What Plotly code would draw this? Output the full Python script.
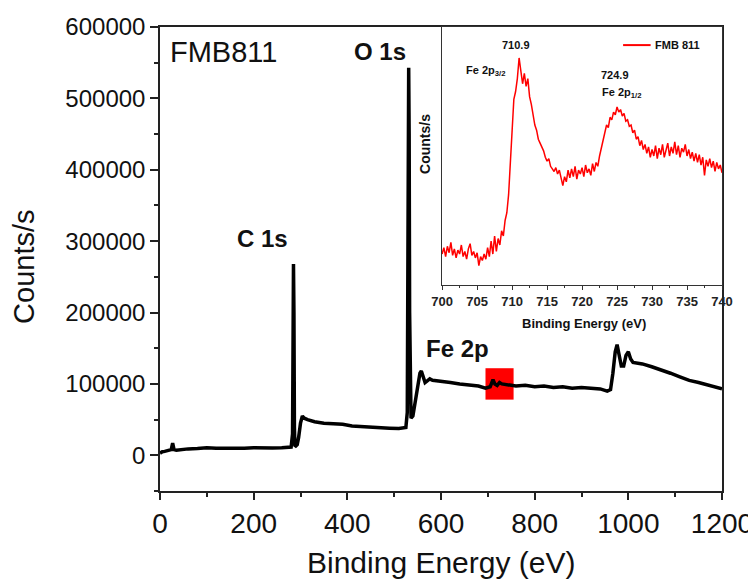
import plotly.graph_objects as go

# ---------------- main survey spectrum ----------------
survey_ev = [0, 5, 10, 15, 20, 24, 27, 30, 35, 45, 60, 80, 100, 120, 140, 160, 180, 200,
             220, 240, 260, 275, 280, 283, 284, 285, 286, 287, 288, 290, 293, 296, 300,
             304, 308, 315, 330, 350, 370, 390, 410, 430, 450, 470, 490, 510, 525, 528,
             529, 530, 531, 532, 533, 534, 536, 540, 545, 550, 555, 558, 562, 566, 570,
             576, 582, 600, 620, 640, 660, 680, 695, 705, 711, 715, 720, 725, 730, 745,
             760, 780, 800, 820, 840, 860, 880, 900, 920, 940, 955, 962, 967, 972, 976,
             980, 985, 990, 995, 1000, 1005, 1010, 1030, 1050, 1070, 1090, 1110, 1130,
             1150, 1170, 1190, 1200]
survey_counts = [3000, 5000, 5500, 6000, 6500, 8000, 17000, 8000, 7000, 8000, 9000, 9500,
                 10500, 9800, 9500, 10000, 9800, 10500, 10000, 10200, 10500, 11000, 11500,
                 30000, 150000, 268000, 200000, 40000, 14000, 13000, 15000, 25000, 45000,
                 55000, 52000, 50000, 47000, 45000, 44000, 43500, 41000, 40000, 39500,
                 38500, 38000, 37500, 39000, 60000, 200000, 420000, 543000, 450000,
                 200000, 70000, 52000, 55000, 75000, 100000, 115000, 118000, 110000,
                 102000, 104000, 107000, 105000, 104000, 102000, 100000, 98000, 97000,
                 94000, 96000, 106000, 100000, 98000, 102000, 100000, 99000, 97000, 98000,
                 96000, 97000, 95000, 96000, 94000, 95000, 94000, 93000, 90000, 92000,
                 115000, 145000, 155000, 140000, 125000, 125000, 140000, 145000, 135000,
                 130000, 128000, 124000, 120000, 115000, 110000, 105000, 102000, 98000,
                 95000, 93000]

# ---------------- inset Fe 2p spectrum ----------------
fe_start = 700.0
fe_step = 0.25
fe_counts = [
    12.0, 14.5, 11.0, 15.0, 12.5, 16.5, 11.5, 14.0, 10.5, 13.5, 12.0, 15.5, 11.0, 13.0,
    10.0, 14.0, 16.0, 11.5, 13.0, 10.5, 12.5, 7.5, 11.0, 9.5, 12.0, 10.0, 14.5, 11.0,
    17.0, 12.0, 19.0, 13.0, 18.0,
    15.5, 21.0, 19.0, 25.0, 28.0, 35.0, 48.0, 63.0, 72.0, 75.0, 80.0, 88.0, 83.0, 78.0,
    82.0, 77.0, 80.0, 73.0, 70.0, 66.0, 62.0, 60.0, 56.5, 55.0, 53.5, 52.0, 49.5, 48.0,
    49.0, 46.0, 45.0, 44.0, 45.5, 43.0, 44.5, 41.0, 38.5, 42.0, 40.0, 44.5, 41.5, 45.0,
    42.0, 46.0, 41.0, 44.5, 43.0, 45.5, 42.0, 46.5, 43.5, 45.0, 42.5, 47.0, 44.0, 47.5,
    46.0, 50.0, 53.0, 56.0, 58.5, 62.0, 61.0, 65.0, 64.0, 67.0, 66.0, 69.0, 67.0, 68.0,
    65.5, 66.5, 63.5, 64.0, 61.5, 62.0, 59.0, 60.0, 56.5, 57.5, 54.0, 56.0, 52.5, 54.5,
    51.0, 53.5, 49.5, 52.5, 50.0, 54.0, 49.0, 53.0, 50.5, 54.5, 49.5, 52.0, 55.0, 50.0,
    53.5, 51.0, 55.5, 50.5, 54.0, 49.5, 53.0, 51.5, 54.5, 50.0, 52.5, 49.0, 51.5, 48.0,
    51.0, 47.5, 50.5, 46.5, 49.5, 42.5, 48.5, 46.0, 49.0, 45.5, 48.0, 44.0, 47.5, 45.0,
    46.5, 43.5]
fe_ev = [fe_start + fe_step * i for i in range(len(fe_counts))]

# highlighted region on survey
box_ev = [695, 755]
box_counts = [78000, 122000]

main_font = "Liberation Sans, Arial, sans-serif"

fig = go.Figure()
fig.add_trace(go.Scatter(x=survey_ev, y=survey_counts, mode="lines",
                         line=dict(color="black", width=3.5), showlegend=False,
                         xaxis="x", yaxis="y"))
fig.add_trace(go.Scatter(x=fe_ev, y=fe_counts, mode="lines", name="FMB 811",
                         line=dict(color="#ff0000", width=1.5), showlegend=False,
                         xaxis="x2", yaxis="y2"))

fig.add_shape(type="rect", xref="x", yref="y", x0=box_ev[0], x1=box_ev[1],
              y0=box_counts[0], y1=box_counts[1], fillcolor="#ff0000",
              line=dict(width=0), layer="below")
# legend sample line for the inset
fig.add_shape(type="line", xref="paper", yref="paper", x0=0.824, x1=0.873,
              y0=0.961, y1=0.961, line=dict(color="#ff0000", width=2))

fig.update_layout(
    width=756, height=573,
    margin=dict(l=152, r=42, t=19, b=90, autoexpand=False),
    paper_bgcolor="white", plot_bgcolor="white",
    font=dict(family=main_font, color="black"),
    showlegend=False,
    xaxis=dict(domain=[0, 1], range=[0, 1200], tickvals=[0, 200, 400, 600, 800, 1000, 1200],
               ticks="outside", ticklen=7, tickwidth=1.5, tickcolor="#222", automargin=False,
               minor=dict(ticks="outside", ticklen=4, dtick=100, tickcolor="#222", tickwidth=1.5),
               showline=True, linecolor="#222", linewidth=1.5, mirror=True,
               showgrid=False, zeroline=False, tickfont=dict(size=28, color="#111")),
    yaxis=dict(domain=[0, 1], range=[-50000, 600000],
               tickvals=[0, 100000, 200000, 300000, 400000, 500000, 600000],
               ticktext=["0", "100000", "200000", "300000", "400000", "500000", "600000"],
               ticks="outside", ticklen=8, tickwidth=1.5, tickcolor="#222", automargin=False,
               minor=dict(ticks="outside", ticklen=4, dtick=50000, tickcolor="#222", tickwidth=1.5),
               showline=True, linecolor="#222", linewidth=1.5, mirror=True,
               showgrid=False, zeroline=False, tickfont=dict(size=24, color="#111")),
    xaxis2=dict(domain=[0.502, 1.0], anchor="y2", range=[700, 740], automargin=False,
                tickvals=[700, 705, 710, 715, 720, 725, 730, 735, 740],
                ticks="outside", ticklen=4, tickwidth=1, tickcolor="#333",
                minor=dict(ticks="outside", ticklen=2, dtick=2.5, tickcolor="#333"),
                showline=True, linecolor="#333", linewidth=1, mirror=True,
                showgrid=False, zeroline=False,
                tickfont=dict(size=13, family="Liberation Sans, Arial", color="#222",
                              weight="bold")),
    yaxis2=dict(domain=[0.444, 1.0], anchor="x2", range=[0, 100], automargin=False,
                showticklabels=False, ticks="",
                showline=True, linecolor="#333", linewidth=1, mirror=True,
                showgrid=False, zeroline=False),
)

ann = []
def a(text, x, y, size, bold=False, angle=0, xanchor="center"):
    ann.append(dict(text=text, x=x, y=y, xref="paper", yref="paper", showarrow=False,
                    xanchor=xanchor, yanchor="middle", textangle=angle,
                    font=dict(size=size, color="#111", family=main_font,
                              weight="bold" if bold else "normal")))

a("FMB811", 0.014, 0.946, 29, xanchor="left")
a("O 1s", 0.391, 0.948, 24, bold=True)
a("C 1s", 0.183, 0.545, 24, bold=True)
a("Fe 2p", 0.530, 0.308, 24, bold=True)
a("710.9", 0.633, 0.961, 11, bold=True)
a("Fe 2p<sub>3/2</sub>", 0.580, 0.905, 11, bold=True)
a("724.9", 0.810, 0.897, 11, bold=True)
a("Fe 2p<sub>1/2</sub>", 0.822, 0.858, 11, bold=True)
a("FMB 811", 0.877, 0.961, 11, bold=True, xanchor="left")
a("Binding Energy (eV)", 0.754, 0.362, 13, bold=True)
a("Counts/s", 0.4715, 0.748, 14, bold=True, angle=-90)
a("Counts/s", -0.242, 0.483, 29, angle=-90)
a("Binding Energy (eV)", 0.50, -0.155, 30)
fig.update_layout(annotations=ann)

fig.write_html("out.html")
